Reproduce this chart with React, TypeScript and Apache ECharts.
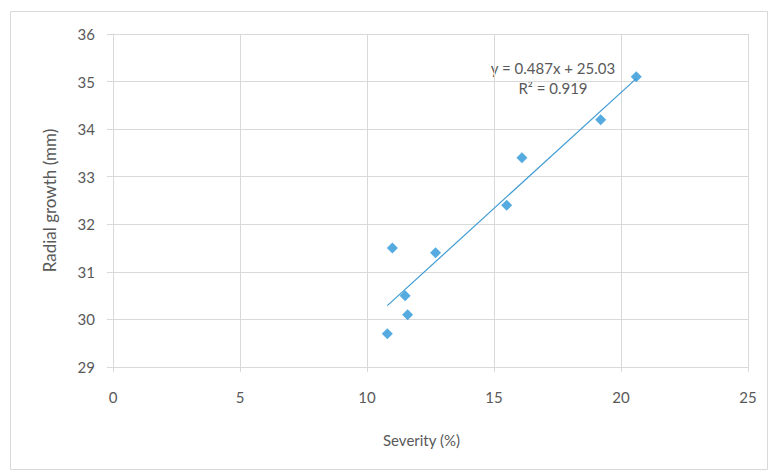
import React, { useEffect, useRef } from "react";
import * as echarts from "echarts";

const severity = [10.8, 11.0, 11.5, 11.6, 12.7, 15.5, 16.1, 19.2, 20.6];
const radialGrowth = [29.7, 31.5, 30.5, 30.1, 31.4, 32.4, 33.4, 34.2, 35.1];
const trendSlope = 0.487;
const trendIntercept = 25.03;
const rSquared = 0.919;

export default function App() {
  const ref = useRef<HTMLDivElement>(null);
  useEffect(() => {
    if (!ref.current) return;
    const chart = echarts.init(ref.current, null, { renderer: "svg" });
    const xMin = Math.min(...severity);
    const xMax = Math.max(...severity);
    const trend = [
      [xMin, trendSlope * xMin + trendIntercept],
      [xMax, trendSlope * xMax + trendIntercept],
    ];
    const font = "Lato, 'Open Sans', sans-serif";
    chart.setOption({
      animation: false,
      backgroundColor: "#fff",
      textStyle: { fontFamily: font },
      graphic: [
        {
          type: "rect",
          shape: { x: 10.5, y: 11.5, width: 757, height: 458 },
          style: { fill: "none", stroke: "#d9d9d9", lineWidth: 1 },
          silent: true,
        },
        {
          type: "text",
          x: 553,
          y: 68,
          style: {
            text: `y = ${trendSlope}x + ${trendIntercept}`,
            font: `15px ${font}`,
            fill: "#595959",
            textAlign: "center",
            textVerticalAlign: "middle",
          },
        },
        {
          type: "text",
          x: 553,
          y: 88,
          style: {
            text: `R² = ${rSquared}`,
            font: `15px ${font}`,
            fill: "#595959",
            textAlign: "center",
            textVerticalAlign: "middle",
          },
        },
      ],
      grid: { left: 113, right: 21, top: 34, bottom: 105 },
      xAxis: {
        type: "value",
        min: 0,
        max: 25,
        interval: 5,
        name: "Severity (%)",
        nameLocation: "middle",
        nameGap: 65,
        nameTextStyle: {
          color: "#595959",
          fontSize: 15,
          fontFamily: font,
          padding: [0, 18, 0, 0],
        },
        axisLine: { show: true, lineStyle: { color: "#d9d9d9" } },
        axisTick: { show: true, length: 5, lineStyle: { color: "#d9d9d9" } },
        axisLabel: { color: "#595959", fontSize: 15, margin: 22, fontFamily: font },
        splitLine: { show: true, lineStyle: { color: "#d9d9d9" } },
      },
      yAxis: {
        type: "value",
        min: 29,
        max: 36,
        interval: 1,
        name: "Radial growth (mm)",
        nameLocation: "middle",
        nameGap: 55,
        nameRotate: 90,
        nameTextStyle: { color: "#595959", fontSize: 17, fontFamily: font },
        axisLine: { show: true, lineStyle: { color: "#d9d9d9" } },
        axisTick: { show: true, length: 6, lineStyle: { color: "#d9d9d9" } },
        axisLabel: { color: "#595959", fontSize: 15, margin: 18, fontFamily: font },
        splitLine: { show: true, lineStyle: { color: "#d9d9d9" } },
      },
      series: [
        {
          type: "line",
          data: trend,
          symbol: "none",
          lineStyle: { color: "#3e9bd3", width: 1.2 },
          silent: true,
          z: 2,
        },
        {
          type: "scatter",
          data: severity.map((x, i) => [x, radialGrowth[i]]),
          symbol: "diamond",
          symbolSize: [11, 11],
          itemStyle: { color: "#2a96d7" },
          z: 3,
        },
      ],
    });
    return () => chart.dispose();
  }, []);
  return (
    <div
      ref={ref}
      style={{ position: "fixed", left: 0, top: 0, width: 769, height: 472 }}
    />
  );
}
